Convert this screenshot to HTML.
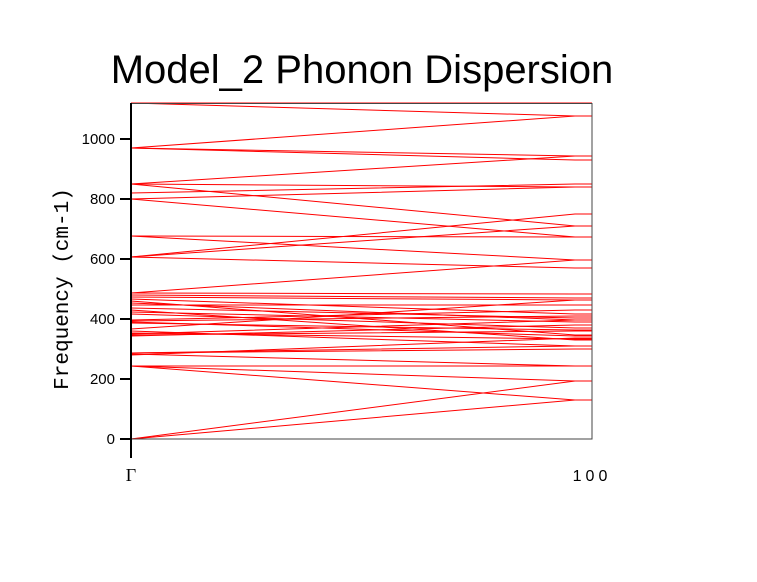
<!DOCTYPE html>
<html><head><meta charset="utf-8"><style>
body{margin:0;background:#fff;width:757px;height:577px;overflow:hidden}
</style></head><body>
<svg id="s" width="757" height="577" xmlns="http://www.w3.org/2000/svg" font-family="Liberation Sans, sans-serif">
<text x="362" y="83" font-size="40" text-anchor="middle">Model_2 Phonon Dispersion</text>
<g id="lines" stroke="#ff0000" stroke-width="1" fill="none"></g>
<rect x="131" y="103.5" width="461" height="335.5" fill="none" stroke="#444" stroke-width="1"/>
<line x1="131" y1="103" x2="131" y2="458" stroke="#000" stroke-width="2"/>
<g stroke="#000" stroke-width="2">
<line x1="120" y1="139" x2="131" y2="139"/><line x1="120" y1="199" x2="131" y2="199"/>
<line x1="120" y1="259" x2="131" y2="259"/><line x1="120" y1="319" x2="131" y2="319"/>
<line x1="120" y1="379" x2="131" y2="379"/><line x1="120" y1="439" x2="131" y2="439"/>
</g>
<g font-size="15" text-anchor="end">
<text x="115" y="144">1000</text><text x="115" y="204">800</text><text x="115" y="264">600</text>
<text x="115" y="324">400</text><text x="115" y="384">200</text><text x="115" y="444">0</text>
</g>
<text x="131" y="481" font-size="18" text-anchor="middle" font-family="Liberation Serif, serif">Γ</text>
<text x="592" y="481" font-size="16" text-anchor="middle" letter-spacing="4">100</text>
<text transform="translate(68,289) rotate(-90)" font-size="21" text-anchor="middle" font-family="Liberation Mono, monospace">Frequency (cm-1)</text>
</svg>
<script>
var p=[[103,116],[103,103],[148,116],[148,156],[148,160],[184,156],[184,187],[184,226],[193,184],[199,187],[199,237],[236,260],[236,237],[257,214],[257,226],[257,268],[293,260],[293,294],[295,298],[297,300],[299,314],[301,335],[303,320],[305,305],[308,318],[310,340],[312,322],[314,328],[320,310],[321,316],[322,336],[323,330],[329,300],[331,346],[333,339],[334,320],[335,331],[336,325],[353,349],[353,346],[354,366],[355,338],[366,366],[366,381],[366,400],[439,381],[439,400],[439,439]];
var g=document.getElementById('lines'),h='';
p.forEach(function(a){h+='<polyline points="131,'+a[0]+' 575,'+a[1]+' 592,'+a[1]+'"/>';});
g.innerHTML=h;
</script>
</body></html>
